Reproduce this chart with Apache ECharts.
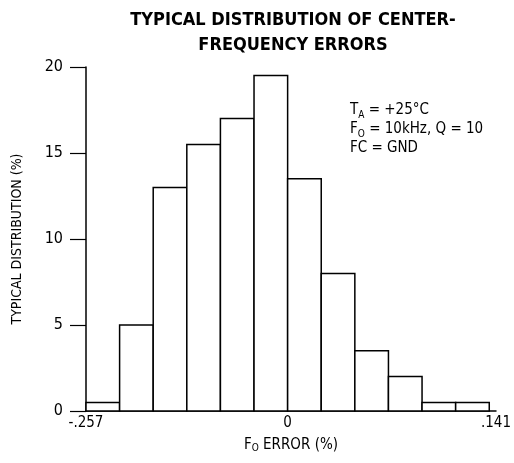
<!DOCTYPE html>
<html><head><meta charset="utf-8">
<script src="https://cdn.jsdelivr.net/npm/echarts@6/dist/echarts.min.js"></script>
<style>html,body{margin:0;padding:0;background:#fff}#c{width:514px;height:463px}</style>
</head><body><div id="c"></div>
<script>
// Histogram bins (index of bin start along the 12-bin axis) and heights (%)
const binStarts = [0,1,2,3,4,5,6,7,8,9,10,11];
const distribution = [0.5,5,13,15.5,17,19.5,13.5,8,3.5,2,0.5,0.5];
const xTickPositions = [0,6,12.2];
const xTickLabels = ['-.257','0','.141'];
const yTicks = [0,5,10,15,20];

const FONT = '"Liberation Sans Narrow","DejaVu Sans Condensed","Liberation Sans",sans-serif';
const chart = echarts.init(document.getElementById('c'));
const data = binStarts.map((b,i)=>[b, distribution[i]]);
chart.setOption({
  backgroundColor:'#fff',
  animation:false,
  title:{
    text:'TYPICAL DISTRIBUTION OF CENTER-\nFREQUENCY ERRORS',
    left:288, top:3, textAlign:'center',
    textStyle:{fontFamily:FONT, fontWeight:900, fontSize:18, color:'#000', lineHeight:25}
  },
  grid:{left:86, right:16, top:67, bottom:52},
  xAxis:{
    type:'value', min:0, max:12.2,
    axisLine:{show:true, onZero:false, lineStyle:{color:'#000', width:1.5}},
    axisTick:{show:false},
    splitLine:{show:false},
    axisLabel:{
      customValues:xTickPositions,
      formatter:v=>{const i=xTickPositions.findIndex(p=>Math.abs(p-v)<1e-6);return i>=0?xTickLabels[i]:'';},
      color:'#000', fontFamily:FONT, fontSize:15, margin:5
    },
    name:'{n|F}{s|O}{n| ERROR (%)}',
    nameLocation:'middle', nameGap:26,
    nameTextStyle:{rich:{n:{fontFamily:FONT,fontSize:15,color:'#000'},s:{fontFamily:FONT,fontSize:10,color:'#000',verticalAlign:'bottom',padding:[6,0,0,0]}}}
  },
  yAxis:{
    type:'value', min:0, max:20, interval:5,
    axisLine:{show:true, lineStyle:{color:'#000', width:1.5}},
    axisTick:{show:true, inside:false, length:16, lineStyle:{color:'#000', width:1.2}},
    splitLine:{show:false},
    axisLabel:{color:'#000', fontFamily:FONT, fontSize:16, margin:23},
    name:'TYPICAL DISTRIBUTION (%)',
    nameLocation:'middle', nameGap:62,
    nameTextStyle:{fontFamily:FONT, fontSize:14, color:'#000'}
  },
  graphic:[{
    type:'text', left:350, top:103,
    style:{
      text:'{n|T}{s|A}{n| = +25°C}\n{n|F}{s|O}{n| = 10kHz, Q = 10}\n{n|FC = GND}',
      rich:{n:{fontFamily:FONT,fontSize:15,color:'#000',lineHeight:19},s:{fontFamily:FONT,fontSize:10,color:'#000',lineHeight:19,verticalAlign:'bottom'}}
    }
  }],
  series:[{
    type:'custom',
    data:data,
    encode:{x:0,y:1},
    renderItem:(params,api)=>{
      const x0=api.value(0), h=api.value(1);
      const p1=api.coord([x0,h]);
      const p2=api.coord([x0+1,0]);
      return {type:'rect', shape:{x:p1[0],y:p1[1],width:p2[0]-p1[0],height:p2[1]-p1[1]},
        style:{fill:'#fff',stroke:'#000',lineWidth:1.5}};
    }
  }]
});
</script></body></html>
